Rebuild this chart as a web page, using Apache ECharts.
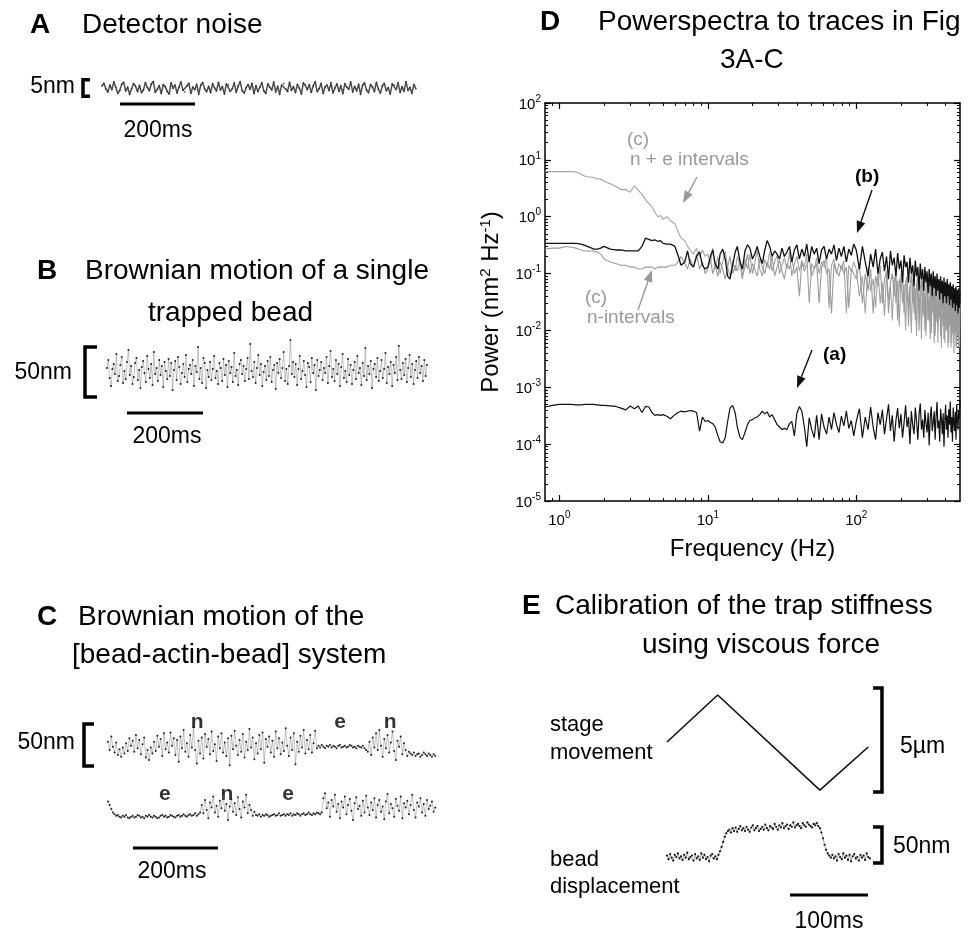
<!DOCTYPE html>
<html><head><meta charset="utf-8">
<script src="https://cdn.jsdelivr.net/npm/echarts@6/dist/echarts.min.js"></script>
<style>html,body{margin:0;padding:0;background:#fff}#c{width:978px;height:934px}</style>
</head><body><div id="c"></div>
<script>
// ---------------- DATA ----------------
// Panel A: detector noise (nm), 837 ms
const traceA_nm = [0.6,1.4,-0.3,-1.2,0.9,-0.5,1.8,0.2,-1.6,-0.7,1.1,1.7,-0.9,0.3,-1.9,-0.2,1.3,0.5,-1.1,0.8,
-1.4,-0.6,1.6,0.1,-0.8,1.2,1.9,-1.3,-0.4,0.7,-1.7,1.0,0.4,-1.0,-1.8,1.5,-0.1,0.9,-1.5,0.2,
1.8,-0.7,-1.2,0.6,1.4,-1.6,0.3,-0.5,1.1,-1.9,0.8,1.6,-0.3,-1.1,0.5,-1.4,1.3,0.0,-0.9,1.7,
-0.6,0.4,-1.8,1.2,0.9,-1.0,-0.2,1.5,-1.3,0.6,1.9,-0.8,-1.5,0.1,1.0,-0.4,1.4,-1.7,0.7,-1.1,
0.3,1.6,-0.9,-1.6,1.2,0.2,-0.6,1.8,-1.2,0.5,-1.9,0.9,1.3,-0.3,-1.0,1.7,-0.7,0.4,-1.4,1.1,
-0.1,-1.8,1.5,0.8,-0.5,1.0,-1.3,0.6,1.9,-1.1,-0.2,1.4,-1.6,0.3,0.9,-0.8,1.6,-1.5,0.0,1.2,
-1.0,0.7,-1.7,1.3,0.2,-0.4,1.8,-1.2,0.5,-0.9,1.1,-1.9,0.8,1.5,-0.6,-1.4,1.0,0.3,-1.1,1.7,
-0.3,-1.5,0.6,1.4,-0.8,0.1,-1.8,1.2,0.9,-0.5,1.6,-1.3,0.4,-1.0,1.9,-0.7,0.2,-1.6,1.1,-0.2];
const durationA_ms = 837;

// Panel B: single trapped bead (nm), 842 ms
const traceB_nm = [4,12,-6,-14,3,8,-2,18,-9,-4,7,15,-11,1,-7,10,22,-3,6,-12,
-5,9,14,-8,2,-16,5,11,-1,-10,16,3,-6,8,-13,20,-2,4,-9,12,
-3,6,-15,10,1,-7,13,-4,9,-18,2,11,-8,15,5,-12,-1,8,-5,17,
-10,3,7,-2,12,-14,6,0,25,-7,4,-11,14,9,-16,2,-5,10,-8,3,
16,-6,1,-12,9,4,-9,13,-3,7,-15,11,-1,5,-10,19,-4,2,-13,8,
12,-2,6,-9,3,14,-7,28,1,-5,10,-11,4,17,-3,8,-14,0,6,-8,
11,-4,15,-10,2,7,-17,9,-1,13,-6,4,20,-9,3,-12,6,32,-2,10,
-5,8,-13,3,16,-7,1,11,-3,-15,9,5,-10,14,-1,7,-18,12,-4,2,
10,-8,4,-1,15,-11,6,21,-5,3,-9,12,-2,8,-14,5,18,-6,1,-10,
13,-3,7,-12,2,10,-7,16,-1,4,-13,9,-4,24,-8,6,-2,11,-16,3,
8,-5,14,-9,1,12,-6,3,19,-11,5,-2,10,-14,7,-1,15,-8,26,2,
-7,9,-3,13,-10,4,17,-5,8,-12,2,11,-6,15,-1,6,-9,12,-4,7];
const durationB_ms = 842;

// Panel C: bead-actin-bead system, two consecutive traces (nm), 770 ms each
const traceC1_nm = [4,-6,10,-2,-9,3,-12,-5,-14,-3,-10,2,-7,8,-1,5,-8,12,-4,6,
-11,1,9,-15,-6,-18,-3,-10,4,-7,11,-2,7,-13,14,-5,3,-9,15,-1,
8,-12,6,-20,10,-4,18,-8,2,-14,12,-3,21,-6,-22,5,-10,9,-16,13,
-2,7,-11,16,-7,1,-19,10,-4,14,-9,3,-13,8,-24,11,-5,17,-1,-12,
6,-8,13,-15,4,-6,19,-3,9,-17,2,-10,12,-5,15,-21,7,-2,10,-9,
5,-14,16,-4,8,-11,3,-7,20,-1,-13,9,-6,14,-23,4,-8,11,-3,18,
-10,6,-5,12,-9,2,17,-4,
-1,-3,0,-2,-4,-1,-2,0,-3,-1,-2,-4,-1,0,-3,-2,-1,-3,-2,0,-1,-3,-2,-4,-1,-2,-3,-1,-4,-6,
-8,4,-12,9,-3,14,-6,18,-1,-14,7,-4,12,-9,3,16,-7,-18,5,-2,10,-11,2,-6,-13,-8,
-10,-12,-9,-13,-11,-10,-14,-12,-9,-11,-13,-10,-12,-14,-11,-13];
const traceC2_nm = [16,12,7,3,1,
-1,0,-2,-3,-1,-2,0,-3,-4,-2,-1,-3,-2,0,-1,-3,-2,-4,-1,-2,0,-2,-3,-1,-2,-4,-3,-1,0,-2,
-1,-3,-2,0,-1,-2,-3,-1,0,-2,-1,1,-1,-2,0,1,-1,0,2,-1,1,3,
12,2,18,6,-4,15,9,22,3,11,-2,17,8,25,5,13,-6,10,19,4,14,0,21,7,-3,16,9,24,2,12,6,-1,4,
0,-1,1,-2,0,-1,1,0,-2,-1,0,1,-1,0,2,-1,0,1,-1,1,0,2,-1,1,0,2,1,-1,1,2,0,1,3,1,0,2,1,3,2,1,3,
20,26,8,15,-2,18,10,24,4,13,-4,16,9,22,1,12,19,5,-6,14,
21,7,11,-1,17,3,23,9,0,15,6,20,-3,12,18,4,10,-5,16,25,
2,13,8,-2,19,11,5,22,-4,14,9,17,1,12,24,6,-3,15,10,20,
3,13,-1,18,7,11,16,4,9];
const durationC_ms = 770;
const labelsC1 = [{t:210,text:'n'},{t:546,text:'e'},{t:664,text:'n'}];
const labelsC2 = [{t:134,text:'e'},{t:280,text:'n'},{t:424,text:'e'}];

// Panel D: power spectra
const frequencyHz = [0.8,0.9,1.0,1.1,1.2,1.3,1.4,1.5,1.6,1.7,1.8,1.9,2.0,2.2,2.4,2.6,2.8,3.0,3.2,3.4,3.6,3.8,4.0,4.2,4.4,4.6,4.8,5.0,5.3,5.6,6.0,6.3,6.6,7.0,7.3,7.6,8.0,8.4,8.8,9.2,9.6,
10,10.4,10.8,11.2,11.7,12.1,12.6,13.1,13.6,14.1,14.7,15.3,15.8,16.5,17.1,17.8,18.5,19.2,20,20.7,21.5,22.4,23.3,24.2,25.1,26.1,27.1,28.2,29.3,30.4,31.6,32.8,34.1,35.5,36.8,38.3,39.8,41.4,43,44.7,46.4,48.2,50.1,52.1,54.1,56.2,58.4,60.7,63.1,65.6,68.1,70.8,73.6,76.5,79.4,82.5,85.8,89.1,92.6,96.2,
100,105,110,115,120,125,130,135,140,145,150,155,160,165,170,175,180,185,190,195,200,205,210,215,220,225,230,235,240,245,250,255,260,265,270,275,280,285,290,295,300,305,310,315,320,325,330,335,340,345,350,355,360,365,370,375,380,385,390,395,400,405,410,415,420,425,430,435,440,445,450,455,460,465,470,475,480,485,490,495,500];
// (b) single trapped bead, nm^2/Hz
const powerB = [0.34,0.34,0.34,0.34,0.34,0.34,0.33,0.31,0.29,0.27,0.27,0.28,0.3,0.27,0.26,0.26,0.25,0.25,0.25,0.25,0.3,0.42,0.4,0.38,0.39,0.37,0.38,0.34,0.33,0.33,0.3,0.21,0.14,0.16,0.25,0.15,0.13,0.2,0.24,0.14,0.12,
0.13,0.2,0.26,0.15,0.12,0.22,0.27,0.18,0.09,0.08,0.14,0.24,0.3,0.16,0.12,0.25,0.32,0.28,0.18,0.22,0.3,0.2,0.15,0.26,0.38,0.3,0.2,0.25,0.22,0.18,0.28,0.2,0.24,0.3,0.16,0.26,0.32,0.18,0.27,0.2,0.33,0.16,0.3,0.22,0.28,0.15,0.26,0.3,0.18,0.27,0.22,0.32,0.17,0.28,0.2,0.3,0.16,0.27,0.21,0.33,
0.26,0.12,0.3,0.16,0.09,0.22,0.13,0.27,0.1,0.18,0.24,0.11,0.2,0.08,0.25,0.14,0.19,0.09,0.23,0.12,0.17,0.07,0.21,0.13,0.16,0.07,0.19,0.1,0.14,0.06,0.17,0.09,0.13,0.05,0.15,0.08,0.12,0.05,0.13,0.07,0.11,0.045,0.12,0.06,0.1,0.04,0.11,0.055,0.09,0.04,0.1,0.05,0.08,0.035,0.09,0.045,0.075,0.03,0.085,0.04,0.07,0.03,0.08,0.04,0.065,0.028,0.07,0.035,0.06,0.025,0.065,0.03,0.055,0.022,0.06,0.028,0.05,0.02,0.055,0.025,0.045];
// (c) n + e intervals
const powerNE = [6.2,6.2,6.2,6.2,6.2,6.1,5.6,5.1,5.0,4.9,4.6,4.6,4.2,3.8,3.4,3.0,3.0,2.7,3.5,2.9,2.5,2.0,1.7,1.5,1.2,1.0,1.05,0.9,1.0,0.85,0.75,0.55,0.42,0.38,0.3,0.26,0.22,0.28,0.2,0.26,0.2,
0.22,0.15,0.28,0.12,0.2,0.1,0.16,0.25,0.13,0.09,0.17,0.11,0.2,0.14,0.08,0.18,0.12,0.22,0.1,0.15,0.26,0.12,0.09,0.18,0.13,0.24,0.11,0.16,0.21,0.1,0.14,0.19,0.12,0.24,0.09,0.15,0.2,0.11,0.17,0.13,0.22,0.03,0.15,0.12,0.19,0.1,0.16,0.13,0.2,0.025,0.14,0.18,0.1,0.15,0.12,0.17,0.02,0.14,0.11,0.16,
0.12,0.04,0.09,0.02,0.13,0.05,0.08,0.025,0.11,0.03,0.07,0.018,0.1,0.035,0.06,0.015,0.09,0.03,0.075,0.012,0.1,0.03,0.065,0.01,0.085,0.025,0.06,0.009,0.08,0.02,0.055,0.008,0.075,0.022,0.05,0.007,0.07,0.018,0.045,0.008,0.065,0.015,0.04,0.007,0.06,0.02,0.045,0.006,0.055,0.014,0.038,0.006,0.05,0.016,0.035,0.005,0.048,0.012,0.032,0.006,0.045,0.01,0.03,0.005,0.042,0.012,0.028,0.005,0.04,0.009,0.026,0.004,0.036,0.01,0.025,0.005,0.034,0.008,0.022,0.005,0.03];
// (c) n-intervals
const powerN = [0.27,0.28,0.28,0.3,0.29,0.28,0.26,0.25,0.25,0.25,0.24,0.22,0.18,0.16,0.15,0.14,0.14,0.13,0.13,0.12,0.12,0.13,0.13,0.13,0.12,0.13,0.13,0.13,0.13,0.14,0.14,0.16,0.2,0.15,0.12,0.18,0.13,0.22,0.12,0.16,0.1,
0.12,0.18,0.1,0.14,0.09,0.16,0.12,0.08,0.13,0.2,0.1,0.14,0.11,0.17,0.09,0.13,0.22,0.1,0.15,0.12,0.09,0.18,0.13,0.1,0.16,0.12,0.2,0.09,0.13,0.17,0.11,0.08,0.15,0.12,0.19,0.1,0.13,0.04,0.16,0.11,0.14,0.18,0.09,0.12,0.15,0.03,0.13,0.17,0.1,0.12,0.02,0.15,0.11,0.09,0.14,0.1,0.13,0.025,0.12,0.1,
0.08,0.15,0.03,0.1,0.05,0.12,0.02,0.09,0.06,0.14,0.03,0.08,0.11,0.02,0.07,0.1,0.04,0.12,0.015,0.08,0.05,0.11,0.02,0.07,0.09,0.012,0.06,0.1,0.03,0.075,0.015,0.065,0.09,0.01,0.055,0.08,0.02,0.07,0.01,0.06,0.085,0.015,0.05,0.075,0.009,0.06,0.03,0.07,0.008,0.05,0.065,0.012,0.045,0.07,0.008,0.055,0.025,0.06,0.007,0.045,0.06,0.01,0.04,0.055,0.006,0.05,0.02,0.05,0.006,0.04,0.055,0.008,0.035,0.05,0.005,0.045,0.015,0.045,0.005,0.035,0.04];
// (a) detector noise, in units of 1e-4 nm^2/Hz
const powerA_e4 = [4.5,4.8,5.0,5.0,5.0,4.9,4.9,5.0,5.0,5.0,4.9,4.8,4.8,4.7,4.6,4.3,4.0,4.7,4.2,4.7,3.6,4.6,4.5,3.6,3.2,3.3,3.2,3.3,3.1,2.8,3.3,3.6,3.8,3.7,3.8,3.9,3.8,3.6,1.7,3.0,2.5,
2.6,2.4,2.3,2.0,1.4,1.1,1.05,1.3,2.5,4.3,4.8,3.5,2.0,1.3,1.2,1.6,2.2,2.6,2.7,2.9,3.0,3.3,3.8,3.4,3.7,3.0,3.3,2.7,2.2,2.0,1.8,1.9,1.8,2.3,2.5,1.4,3.5,4.6,3.8,2.0,0.9,2.9,1.8,1.3,3.2,1.2,3.4,2.0,1.5,3.0,1.8,3.6,2.2,1.6,3.1,2.1,3.8,1.9,2.6,1.4,
2.5,4.2,1.3,3.0,1.8,4.5,2.0,1.2,3.6,2.2,4.0,1.5,2.8,5.0,1.7,3.2,1.1,2.6,4.3,1.9,3.4,1.3,2.4,4.8,2.0,3.0,1.0,3.8,2.2,1.5,4.4,2.5,1.2,3.3,5.2,1.8,2.7,1.3,4.0,2.3,1.6,3.6,0.95,2.9,4.6,1.7,2.4,3.8,1.2,3.1,5.5,1.9,2.6,1.1,4.2,2.8,1.5,3.5,0.9,2.7,4.9,1.8,3.2,1.3,4.1,2.2,5.6,1.6,3.0,1.1,4.4,2.4,1.7,3.7,1.2,5.0,2.6,1.8,3.9,2.8,6.0];
const decadeTicks = [-5,-4,-3,-2,-1,0,1,2];

// Panel E: calibration
const stageTime_ms = [0, 65, 196, 258];
const stagePos_um = [0, 2.26, -2.31, -0.24];
const beadDisp_nm = [2,-3,4,-1,-5,3,0,5,-2,1,-4,3,-1,6,-3,0,2,-5,4,-2,1,-4,5,-1,3,-3,0,-6,2,4,-2,1,-3,3,
8,14,21,28,33,36,
38,34,40,36,41,35,39,43,37,40,36,42,38,35,41,44,37,40,43,36,39,42,38,45,40,37,43,41,39,46,42,38,44,41,47,40,43,45,39,44,42,48,41,44,46,43,40,47,44,42,48,45,43,41,46,44,47,43,
40,34,26,17,10,5,2,-1,
3,-2,1,-5,4,0,-3,5,-1,2,-4,3,-6,1,4,-2,0,-5,3,-1,2,-4,5,0,-2];
const beadDt_ms = 2;

// ---------------- CHART ----------------
const FONT = '"Liberation Sans", Arial, Helvetica, sans-serif';
const chart = echarts.init(document.getElementById('c'), null, {renderer: 'canvas'});
const L10 = Math.log10;

function timeSeries(vals, dur){ const dt = dur/(vals.length-1); return vals.map((v,i)=>[i*dt, v]); }
function hiddenX(g,min,max){ return {type:'value', gridIndex:g, min, max, show:false}; }
function hiddenY(g,min,max){ return {type:'value', gridIndex:g, min, max, show:false}; }
function poly(xi, yi, pts, w, color){ return {type:'line', xAxisIndex:xi, yAxisIndex:yi, data:pts, showSymbol:false, clip:false, silent:true, lineStyle:{width:w, color:color||'#000', cap:'butt', join:'miter'}, z:5}; }
function noisy(xi, yi, data, opts){ return {type:'line', xAxisIndex:xi, yAxisIndex:yi, data, clip:false, silent:true,
  showSymbol:opts.ss>0, showAllSymbol:true, symbol:'circle', symbolSize:opts.ss, itemStyle:{color:opts.dot, borderWidth:0},
  lineStyle:{width:opts.lw, color:opts.line, opacity:opts.op}}; }

const grids = [
  {left:19.5, top:71, width:412.5, height:40.8},      // 0 A
  {left:12, top:330, width:418, height:90},           // 1 B
  {left:65.5, top:714.76, width:382.5, height:60.48}, // 2 C1
  {left:65.5, top:784.76, width:382.5, height:90.72}, // 3 C2
  {left:545, top:103, width:415, height:398},         // 4 D
  {left:651.4, top:679.6, width:249.6, height:124.8}, // 5 E1
  {left:651.4, top:815.24, width:249.6, height:90}    // 6 E2
].map(g=>Object.assign({outerBoundsMode:'none', containLabel:false}, g));

const xMin = L10(0.8), xMax = L10(500);
const xMinor = [];
[0.9,2,3,4,5,6,7,8,9,20,30,40,50,60,70,80,90,200,300,400].forEach(v=>xMinor.push(L10(v)));
const yMinor = [];
for (let d=-5; d<2; d++) for (let k=2; k<10; k++) yMinor.push(d+L10(k));

const axisBox = {show:true, onZero:false, lineStyle:{color:'#000', width:1.5}};
const noLine = {show:false, onZero:false};
const labRich = {b:{fontSize:15, fontFamily:FONT, color:'#000', verticalAlign:'bottom'}, s:{fontSize:10, fontFamily:FONT, color:'#000', verticalAlign:'bottom', padding:[0,0,8,0]}};
const expFmt = v => '{b|10}{s|' + Math.round(v) + '}';

const xAxes = [
  hiddenX(0,-220,880), hiddenX(1,-250,850), hiddenX(2,-100,800), hiddenX(3,-100,800),
  {type:'value', gridIndex:4, position:'bottom', min:xMin, max:xMax, axisLine:axisBox, splitLine:{show:false},
   axisTick:{inside:true, length:6, customValues:[0,1,2], lineStyle:{color:'#000', width:1.2}},
   axisLabel:{customValues:[0,1,2], formatter:expFmt, rich:labRich, margin:9},
   name:'Frequency (Hz)', nameLocation:'middle', nameGap:36, nameTextStyle:{fontSize:24, fontFamily:FONT, color:'#000'}},
  {type:'value', gridIndex:4, position:'top', min:xMin, max:xMax, axisLine:axisBox, splitLine:{show:false},
   axisTick:{inside:true, length:6, customValues:[0,1,2], lineStyle:{color:'#000', width:1.2}}, axisLabel:{show:false}},
  {type:'value', gridIndex:4, position:'bottom', min:xMin, max:xMax, axisLine:noLine, splitLine:{show:false},
   axisTick:{inside:true, length:3, customValues:xMinor, lineStyle:{color:'#000', width:1}}, axisLabel:{show:false}},
  {type:'value', gridIndex:4, position:'top', min:xMin, max:xMax, axisLine:noLine, splitLine:{show:false},
   axisTick:{inside:true, length:3, customValues:xMinor, lineStyle:{color:'#000', width:1}}, axisLabel:{show:false}},
  hiddenX(5,-20,300), hiddenX(6,-20,300)
];
const yAxes = [
  hiddenY(0,-7,5), hiddenY(1,-48,42), hiddenY(2,-36,36), hiddenY(3,-72,36),
  {type:'value', gridIndex:4, position:'left', min:-5, max:2, axisLine:axisBox, splitLine:{show:false},
   axisTick:{inside:true, length:6, customValues:decadeTicks, lineStyle:{color:'#000', width:1.2}},
   axisLabel:{customValues:decadeTicks, formatter:expFmt, rich:labRich, margin:4},
   name:'Power (nm{s|2} Hz{s|-1})', nameLocation:'middle', nameGap:40, nameRotate:90,
   nameTextStyle:{fontSize:24, fontFamily:FONT, color:'#000', rich:{s:{fontSize:15, fontFamily:FONT, color:'#000', verticalAlign:'bottom', padding:[0,0,12,0]}}}},
  {type:'value', gridIndex:4, position:'right', min:-5, max:2, axisLine:axisBox, splitLine:{show:false},
   axisTick:{inside:true, length:6, customValues:decadeTicks, lineStyle:{color:'#000', width:1.2}}, axisLabel:{show:false}},
  {type:'value', gridIndex:4, position:'left', min:-5, max:2, axisLine:noLine, splitLine:{show:false},
   axisTick:{inside:true, length:3, customValues:yMinor, lineStyle:{color:'#000', width:1}}, axisLabel:{show:false}},
  {type:'value', gridIndex:4, position:'right', min:-5, max:2, axisLine:noLine, splitLine:{show:false},
   axisTick:{inside:true, length:3, customValues:yMinor, lineStyle:{color:'#000', width:1}}, axisLabel:{show:false}},
  hiddenY(5,-3,3), hiddenY(6,-67,58)
];

function spectrum(powers, scale){ const n=Math.min(powers.length, frequencyHz.length); const out=[]; for(let i=0;i<n;i++) out.push([L10(frequencyHz[i]), L10(powers[i]*scale)]); return out; }
function specSeries(data, color, w){ return {type:'line', xAxisIndex:4, yAxisIndex:4, data, showSymbol:false, silent:true, lineStyle:{width:w, color}, z:3}; }

const series = [
  // A
  noisy(0,0,timeSeries(traceA_nm,durationA_ms),{ss:1.6, dot:'#222', lw:1.5, line:'#3a3a3a', op:0.9}),
  poly(0,0,[[-32,2.4],[-50.7,2.4],[-50.7,-2.4],[-32,-2.4]],3.5),
  poly(0,0,[[48,-4.7],[248,-4.7]],3),
  // B
  noisy(1,1,timeSeries(traceB_nm,durationB_ms),{ss:2, dot:'#222', lw:0.7, line:'#666', op:0.55}),
  poly(1,1,[[-26.3,25],[-57.9,25],[-57.9,-25],[-26.3,-25]],3.5),
  poly(1,1,[[52.6,-41],[252.6,-41]],3),
  // C
  noisy(2,2,timeSeries(traceC1_nm,durationC_ms),{ss:2, dot:'#222', lw:0.7, line:'#666', op:0.55}),
  poly(2,2,[[-32.9,25],[-56.5,25],[-56.5,-25],[-32.9,-25]],3.5),
  noisy(3,3,timeSeries(traceC2_nm,durationC_ms),{ss:2, dot:'#222', lw:0.7, line:'#666', op:0.55}),
  poly(3,3,[[58.8,-39.3],[258.8,-39.3]],3),
  // D
  specSeries(spectrum(powerNE,1),'#a3a3a3',1.1),
  specSeries(spectrum(powerN,1),'#9a9a9a',1.1),
  specSeries(spectrum(powerB,1),'#111',1.3),
  specSeries(spectrum(powerA_e4,1e-4),'#111',1.2),
  // E
  {type:'line', xAxisIndex:8, yAxisIndex:8, data:stageTime_ms.map((t,i)=>[t,stagePos_um[i]]), showSymbol:false, silent:true, lineStyle:{width:1.6, color:'#111'}},
  poly(8,8,[[264.1,2.6],[275.6,2.6],[275.6,-2.4],[264.1,-2.4]],3.5),
  noisy(9,9,beadDisp_nm.map((v,i)=>[i*beadDt_ms, v]),{ss:2.2, dot:'#111', lw:0.6, line:'#444', op:0.8}),
  poly(9,9,[[264.1,41.7],[275.6,41.7],[275.6,-8.3],[264.1,-8.3]],3.5),
  poly(9,9,[[157.7,-52.8],[257.7,-52.8]],3)
];

// C interval labels placed via data coordinates
function letterSeries(xi, yi, labels, y){ return {type:'scatter', xAxisIndex:xi, yAxisIndex:yi, symbolSize:0, silent:true, clip:false,
  data: labels.map(l=>({value:[l.t,y], label:{show:true, formatter:l.text, position:'inside', fontSize:21, fontWeight:'bold', fontFamily:FONT, color:'#000'}}))}; }
series.push(letterSeries(2,2,labelsC1,27));
series.push(letterSeries(3,3,labelsC2,25));

// text helpers (pixel positions for annotations)
function txt(x,y,text,font,align,fill){ return {type:'text', silent:true, style:{x, y, text, font, fill:fill||'#000', align:align||'left', verticalAlign:'middle'}, z:10}; }
function arrow(x1,y1,x2,y2,color){ const a=Math.atan2(y2-y1,x2-x1), Lh=12, W=4.5; const bx=x2-Lh*Math.cos(a), by=y2-Lh*Math.sin(a); const px=-Math.sin(a)*W, py=Math.cos(a)*W;
  return [{type:'line', silent:true, shape:{x1,y1,x2:bx,y2:by}, style:{stroke:color, lineWidth:1.4}, z:10},
          {type:'polygon', silent:true, shape:{points:[[x2,y2],[bx+px,by+py],[bx-px,by-py]]}, style:{fill:color}, z:10}]; }
const TITLE = '28px ' + FONT, LET = 'bold 28px ' + FONT, LAB = '23px ' + FONT;
const graphics = [
  txt(30,25,'A',LET), txt(82,25,'Detector noise',TITLE),
  txt(75,87,'5nm',LAB,'right'), txt(158,131,'200ms',LAB,'center'),
  txt(37,271,'B',LET), txt(85,271,'Brownian motion of a single',TITLE), txt(148,313,'trapped bead',TITLE),
  txt(72,373,'50nm',LAB,'right'), txt(167,437,'200ms',LAB,'center'),
  txt(37,617,'C',LET), txt(78,617,'Brownian motion of the',TITLE), txt(72,655,'[bead-actin-bead] system',TITLE),
  txt(75,743,'50nm',LAB,'right'), txt(172,872,'200ms',LAB,'center'),
  txt(540,22,'D',LET), txt(598,22,'Powerspectra to traces in Fig',TITLE), txt(720,60,'3A-C',TITLE),
  txt(627,140,'(c)','19px '+FONT,'left','#999'), txt(630,160,'n + e intervals','19px '+FONT,'left','#999'),
  txt(585,298,'(c)','19px '+FONT,'left','#999'), txt(587,318,'n-intervals','19px '+FONT,'left','#999'),
  txt(855,177,'(b)','bold 19px '+FONT), txt(823,355,'(a)','bold 19px '+FONT),
  txt(522,606,'E',LET), txt(555,606,'Calibration of the trap stiffness',TITLE), txt(642,645,'using viscous force',TITLE),
  txt(550,725,'stage','22px '+FONT), txt(550,753,'movement','22px '+FONT),
  txt(550,860,'bead','22px '+FONT), txt(550,887,'displacement','22px '+FONT),
  txt(900,747,'5\u00b5m',LAB), txt(893,847,'50nm',LAB), txt(829,922,'100ms',LAB,'center')
].concat(arrow(697,177,683,203,'#999'), arrow(638,310,652,270,'#999'), arrow(872,190,857,233,'#111'), arrow(812,350,797,388,'#111'));

chart.setOption({
  animation:false, backgroundColor:'#fff',
  textStyle:{fontFamily:FONT},
  grid:grids, xAxis:xAxes, yAxis:yAxes, series, graphic:graphics
});
</script></body></html>
